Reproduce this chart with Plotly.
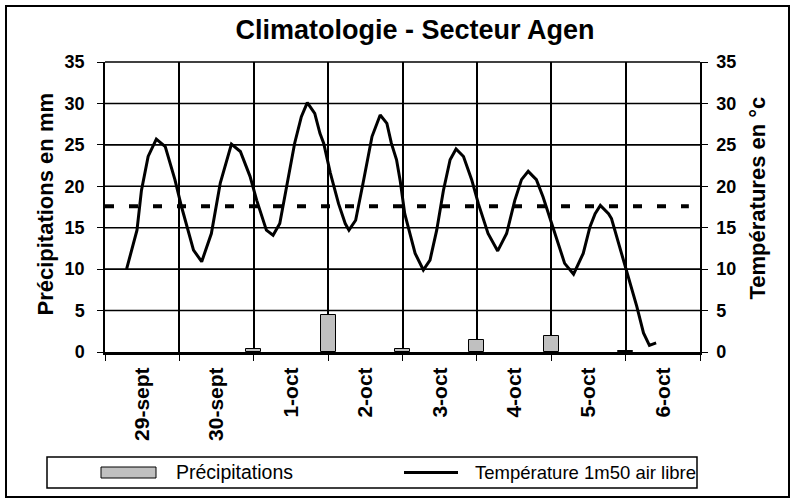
import plotly.graph_objects as go

# ---------------- data ----------------
day_labels = ["29-sept", "30-sept", "1-oct", "2-oct", "3-oct", "4-oct", "5-oct", "6-oct"]

# precipitation (mm), positioned in days from 29-sept 00h
precip_day = [2, 3, 4, 5, 6, 7]
precip_mm = [0.4, 4.5, 0.4, 1.4, 1.9, 0.1]

# temperature 1m50 (°C), time in days from 29-sept 00h
temp_day = [0.29, 0.43, 0.49, 0.58, 0.69, 0.81, 0.94, 1.03, 1.19, 1.30, 1.43, 1.55, 1.70, 1.82,
            1.95, 2.04, 2.17, 2.26, 2.35, 2.44, 2.55, 2.64, 2.72, 2.82, 2.89, 2.94, 3.03, 3.14,
            3.23, 3.28, 3.37, 3.47, 3.59, 3.70, 3.79, 3.85, 3.92, 3.97, 4.03, 4.10, 4.17, 4.28,
            4.37, 4.46, 4.55, 4.64, 4.72, 4.82, 4.93, 5.02, 5.15, 5.28, 5.40, 5.51, 5.60, 5.69,
            5.80, 5.89, 5.98, 6.07, 6.18, 6.30, 6.43, 6.52, 6.59, 6.66, 6.77, 6.81, 6.92, 7.01,
            7.15, 7.24, 7.32, 7.41]
temp_c = [10.0, 14.7, 19.5, 23.6, 25.7, 24.8, 20.8, 17.5, 12.3, 10.9, 14.3, 20.4, 25.1, 24.2,
          21.2, 18.3, 14.7, 14.1, 15.5, 20.0, 25.2, 28.4, 30.1, 28.8, 26.4, 25.2, 21.6, 17.9,
          15.5, 14.7, 15.9, 20.4, 26.0, 28.6, 27.6, 25.2, 23.2, 20.6, 16.7, 14.3, 11.9, 9.9,
          11.1, 14.7, 19.5, 23.2, 24.5, 23.6, 20.8, 17.9, 14.3, 12.2, 14.3, 18.3, 20.8, 21.8,
          20.8, 18.7, 16.3, 13.9, 10.7, 9.4, 11.9, 15.1, 16.7, 17.7, 16.7, 16.1, 12.7, 9.9,
          5.5, 2.3, 0.8, 1.1]

# mean temperature reference line
mean_day = [0.0, 7.85]
mean_c = [17.6, 17.6]

y_ticks = [0, 5, 10, 15, 20, 25, 30, 35]

# ---------------- layout helpers ----------------
W, H = 795, 502
L, R, T, B = 105, 700, 62, 352
X_RANGE = [0, len(day_labels)]
Y_RANGE = [0, 35]


def px(x):
    return (x - L) / (R - L)


def py(y):
    return (B - y) / (B - T)


FONT = "Liberation Sans, Arial, sans-serif"

fig = go.Figure()

fig.add_trace(go.Bar(
    x=precip_day, y=precip_mm, width=0.2,
    marker=dict(color="#C0C0C0", line=dict(color="black", width=1)),
    name="Précipitations", yaxis="y", showlegend=False,
))
fig.add_trace(go.Scatter(
    x=mean_day, y=mean_c, mode="lines",
    line=dict(color="black", width=4, dash="9px,15px"),
    yaxis="y2", showlegend=False, hoverinfo="skip",
))
fig.add_trace(go.Scatter(
    x=temp_day, y=temp_c, mode="lines",
    line=dict(color="black", width=3),
    name="Température 1m50 air libre", yaxis="y2", showlegend=False,
))

tickfont = dict(family=FONT, size=18, color="black", weight="bold")
xtickfont = dict(family=FONT, size=21, color="black", weight="bold")

fig.update_layout(
    width=W, height=H,
    margin=dict(l=L, r=W - R, t=T, b=H - B),
    paper_bgcolor="white", plot_bgcolor="rgba(0,0,0,0)",
    bargap=0,
    title=dict(text="<b>Climatologie - Secteur Agen</b>", x=415 / W, xanchor="center",
               y=1 - 30 / H, yanchor="middle", font=dict(family=FONT, size=27, color="black")),
    xaxis=dict(
        range=X_RANGE, tickmode="array",
        tickvals=[i + 0.5 for i in range(len(day_labels))], ticktext=day_labels,
        tickangle=-90, tickfont=xtickfont,
        ticks="outside", ticklen=4, tickcolor="rgba(0,0,0,0)",
        showgrid=False, zeroline=False,
        showline=True, linecolor="black", linewidth=3,
        minor=dict(tickmode="array", tickvals=list(range(len(day_labels) + 1)),
                   ticks="outside", ticklen=6, tickcolor="black", tickwidth=1,
                   showgrid=True, gridcolor="black", gridwidth=1.5),
    ),
    yaxis=dict(
        range=Y_RANGE, tickmode="array", tickvals=y_ticks, tickfont=tickfont,
        ticks="outside", ticklen=6, tickcolor="black", ticklabelstandoff=9,
        showgrid=False, zeroline=False,
        showline=True, linecolor="black", linewidth=1.5,
    ),
    yaxis2=dict(
        range=Y_RANGE, tickmode="array", tickvals=y_ticks, tickfont=tickfont,
        overlaying="y", side="right",
        ticks="outside", ticklen=6, tickcolor="black", ticklabelstandoff=5,
        showgrid=False, zeroline=False,
        showline=True, linecolor="black", linewidth=1.5,
    ),
)

# horizontal gridlines as thin filled bands at the tick fractions
half = 0.8 / (B - T)
for v in y_ticks[1:]:
    frac = (v - Y_RANGE[0]) / (Y_RANGE[1] - Y_RANGE[0])
    fig.add_shape(type="rect", xref="paper", yref="paper", x0=0, x1=1,
                  y0=frac - half, y1=frac + half,
                  line=dict(width=0), fillcolor="black", layer="below")

# axis titles
fig.add_annotation(text="<b>Précipitations en mm</b>", x=px(30), y=py(204), xref="paper", yref="paper",
                   textangle=-90, showarrow=False, font=dict(family=FONT, size=22, color="black"))
fig.add_annotation(text="<b>Températures en °c</b>", x=px(771), y=py(198), xref="paper", yref="paper",
                   textangle=-90, showarrow=False, font=dict(family=FONT, size=22, color="black"))

# outer frame
fig.add_shape(type="rect", xref="paper", yref="paper", x0=px(6), x1=px(789), y0=py(6), y1=py(497),
              line=dict(color="black", width=2), fillcolor="rgba(0,0,0,0)", layer="above")

# legend (custom)
leg_top, leg_bot = 457, 488
leg_mid = (leg_top + leg_bot) / 2
fig.add_shape(type="rect", xref="paper", yref="paper", x0=px(47), x1=px(697), y0=py(leg_top), y1=py(leg_bot),
              line=dict(color="black", width=1.5), fillcolor="white")
fig.add_shape(type="rect", xref="paper", yref="paper", x0=px(101), x1=px(156),
              y0=py(leg_mid - 5.5), y1=py(leg_mid + 5.5),
              line=dict(color="black", width=1), fillcolor="#C0C0C0")
fig.add_shape(type="line", xref="paper", yref="paper", x0=px(404), x1=px(458),
              y0=py(leg_mid), y1=py(leg_mid), line=dict(color="black", width=3))
fig.add_annotation(text="Précipitations", x=px(174), y=py(leg_mid), xref="paper", yref="paper",
                   xanchor="left", yanchor="middle", showarrow=False,
                   font=dict(family=FONT, size=19.5, color="black"))
fig.add_annotation(text="Température 1m50 air libre", x=px(473), y=py(leg_mid), xref="paper", yref="paper",
                   xanchor="left", yanchor="middle", showarrow=False,
                   font=dict(family=FONT, size=18.5, color="black"))

fig.write_html("out.html", config={"displayModeBar": False},
               post_script="document.body.style.margin='0px';")
